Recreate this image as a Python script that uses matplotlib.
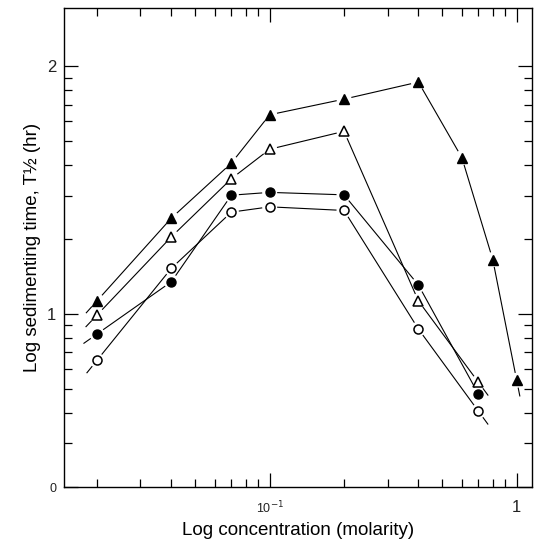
import numpy as np
import matplotlib.pyplot as plt
from matplotlib.ticker import LogLocator, NullFormatter

# Sedimenting time T1/2 (hr) against salt concentration (molarity)
conc_a = [0.02, 0.04, 0.07, 0.1, 0.2, 0.4, 0.6, 0.8, 1.0]
filled_tri = [11.3, 24.4, 40.7, 63.8, 73.8, 86.5, 42.8, 16.6, 5.4]

conc_b = [0.02, 0.04, 0.07, 0.1, 0.2, 0.4, 0.7]
open_tri = [9.9, 20.5, 35.2, 46.3, 54.7, 11.3, 5.3]
filled_circ = [8.3, 13.5, 30.2, 31.0, 30.3, 13.1, 4.75]
open_circ = [6.5, 15.3, 25.8, 27.1, 26.2, 8.7, 4.05]

ytick_vals = [2, 10, 100]
ytick_labels = ["0", "1", "2"]
xtick_vals = [0.1, 1.0]
xtick_labels = ["10$^{-1}$", "1"]

plt.rcParams["font.family"] = ["Liberation Sans", "DejaVu Sans"]

fig = plt.figure(figsize=(5.41, 5.43), dpi=100)
ax = fig.add_axes([0.119, 0.103, 0.865, 0.882])
ax.set_xscale("log")
ax.set_yscale("log")
ax.set_xlim(0.01476, 1.157)
ax.set_ylim(2.0, 172)

GAP = 7.5   # px left open round each marker
STUB = 9.0  # length of the end stubs


def gapped_line(x, y, stub_left=True, stub_right=True):
    pts = ax.transData.transform(np.column_stack([x, y]))
    inv = ax.transData.inverted()
    segs = []
    for p, q in zip(pts[:-1], pts[1:]):
        d = q - p
        u = d / np.hypot(*d)
        segs.append((p + u * GAP, q - u * GAP))
    if stub_left:
        d = pts[1] - pts[0]
        u = d / np.hypot(*d)
        segs.append((pts[0] - u * GAP, pts[0] - u * (GAP + STUB)))
    if stub_right:
        d = pts[-1] - pts[-2]
        u = d / np.hypot(*d)
        segs.append((pts[-1] + u * GAP, pts[-1] + u * (GAP + STUB)))
    for a, b in segs:
        da = inv.transform([a, b])
        ax.plot(da[:, 0], da[:, 1], color="black", linewidth=0.8,
                solid_capstyle="butt")


gapped_line(conc_a, filled_tri)
gapped_line(conc_b, open_tri)
gapped_line(conc_b, filled_circ, stub_right=False)
gapped_line(conc_b, open_circ)

ms = 6.5
ax.plot(conc_a, filled_tri, linestyle="none", marker="^", markersize=ms + 0.5,
        color="black")
ax.plot(conc_b, open_tri, linestyle="none", marker="^", markersize=ms + 0.5,
        markerfacecolor="white", markeredgecolor="black", markeredgewidth=1.1)
ax.plot(conc_b, filled_circ, linestyle="none", marker="o", markersize=ms,
        color="black")
ax.plot(conc_b, open_circ, linestyle="none", marker="o", markersize=ms,
        markerfacecolor="white", markeredgecolor="black", markeredgewidth=1.1)

# ticks
ax.xaxis.set_minor_locator(LogLocator(base=10, subs=np.arange(2, 10)))
ax.xaxis.set_minor_formatter(NullFormatter())
ax.yaxis.set_minor_locator(LogLocator(base=10, subs=np.arange(2, 10)))
ax.yaxis.set_minor_formatter(NullFormatter())
ax.set_xticks(xtick_vals, labels=xtick_labels)
ax.set_yticks(ytick_vals, labels=ytick_labels)
ax.tick_params(which="both", direction="in", top=True, right=True,
               labelcolor="#222222", width=0.9)
ax.tick_params(which="major", length=10)
ax.tick_params(which="minor", length=6)
ax.tick_params(axis="y", pad=6, labelsize=12)
ax.tick_params(axis="x", pad=9, labelsize=12)
# the "0" and "10^-1" labels are printed smaller in the original
ax.get_yticklabels()[0].set_fontsize(9)
ax.get_xticklabels()[0].set_fontsize(9)
for s in ax.spines.values():
    s.set_linewidth(1.0)

ax.set_xlabel("Log concentration (molarity)", fontsize=13.5, labelpad=4)
ax.set_ylabel("Log sedimenting time, T½ (hr)", fontsize=13.5, labelpad=4)

fig.savefig("out.png", dpi=100)
